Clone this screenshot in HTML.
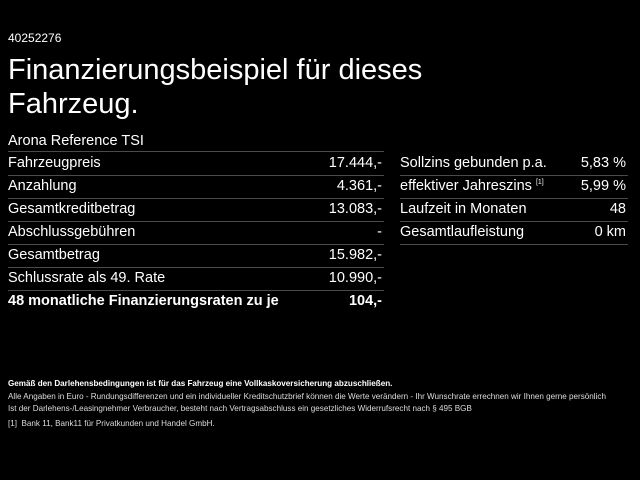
<!DOCTYPE html>
<html><head><style>
*{margin:0;padding:0}
body{width:640px;height:480px;background:#000;color:#fff;font-family:"Liberation Sans",Arial,sans-serif;position:relative;overflow:hidden}
.a{position:absolute;white-space:nowrap}
.r{position:absolute;height:23px;line-height:22px;font-size:14.5px;border-bottom:1px solid #4a4a4a}
.r span{position:absolute;right:2px;top:0}
.sm{font-size:8.1px;color:#ddd}
sup{font-size:7px;line-height:0;vertical-align:6px}
</style></head><body>
<div class="a" style="left:8px;top:31px;font-size:12px">40252276</div>
<div class="a" style="left:8px;top:53px;font-size:29px;line-height:34px">Finanzierungsbeispiel für dieses<br>Fahrzeug.</div>
<div class="a" style="left:8px;top:133px;font-size:14.5px">Arona Reference TSI</div>
<div class="a" style="left:8px;top:151px;width:376px;border-top:1px solid #4a4a4a"></div>
<div class="r" style="left:8px;top:152px;width:376px">Fahrzeugpreis<span>17.444,-</span></div>
<div class="r" style="left:8px;top:175px;width:376px">Anzahlung<span>4.361,-</span></div>
<div class="r" style="left:8px;top:198px;width:376px">Gesamtkreditbetrag<span>13.083,-</span></div>
<div class="r" style="left:8px;top:221px;width:376px">Abschlussgebühren<span>-</span></div>
<div class="r" style="left:8px;top:244px;width:376px">Gesamtbetrag<span>15.982,-</span></div>
<div class="r" style="left:8px;top:267px;width:376px">Schlussrate als 49. Rate<span>10.990,-</span></div>
<div class="r" style="left:8px;top:290px;width:376px;font-weight:bold;border:none">48 monatliche Finanzierungsraten zu je<span>104,-</span></div>
<div class="r" style="left:400px;top:152px;width:228px">Sollzins gebunden p.a.<span>5,83 %</span></div>
<div class="r" style="left:400px;top:175px;width:228px">effektiver Jahreszins <sup>[1]</sup><span>5,99 %</span></div>
<div class="r" style="left:400px;top:198px;width:228px">Laufzeit in Monaten<span>48</span></div>
<div class="r" style="left:400px;top:221px;width:228px">Gesamtlaufleistung<span>0 km</span></div>
<div class="a sm" style="left:8px;top:379px;font-weight:bold;color:#fff">Gemäß den Darlehensbedingungen ist für das Fahrzeug eine Vollkaskoversicherung abzuschließen.</div>
<div class="a sm" style="left:8px;top:392px">Alle Angaben in Euro - Rundungsdifferenzen und ein individueller Kreditschutzbrief können die Werte verändern - Ihr Wunschrate errechnen wir Ihnen gerne persönlich</div>
<div class="a sm" style="left:8px;top:404px">Ist der Darlehens-/Leasingnehmer Verbraucher, besteht nach Vertragsabschluss ein gesetzliches Widerrufsrecht nach § 495 BGB</div>
<div class="a sm" style="left:8px;top:419px">[1]&nbsp; Bank 11, Bank11 für Privatkunden und Handel GmbH.</div>
</body></html>
